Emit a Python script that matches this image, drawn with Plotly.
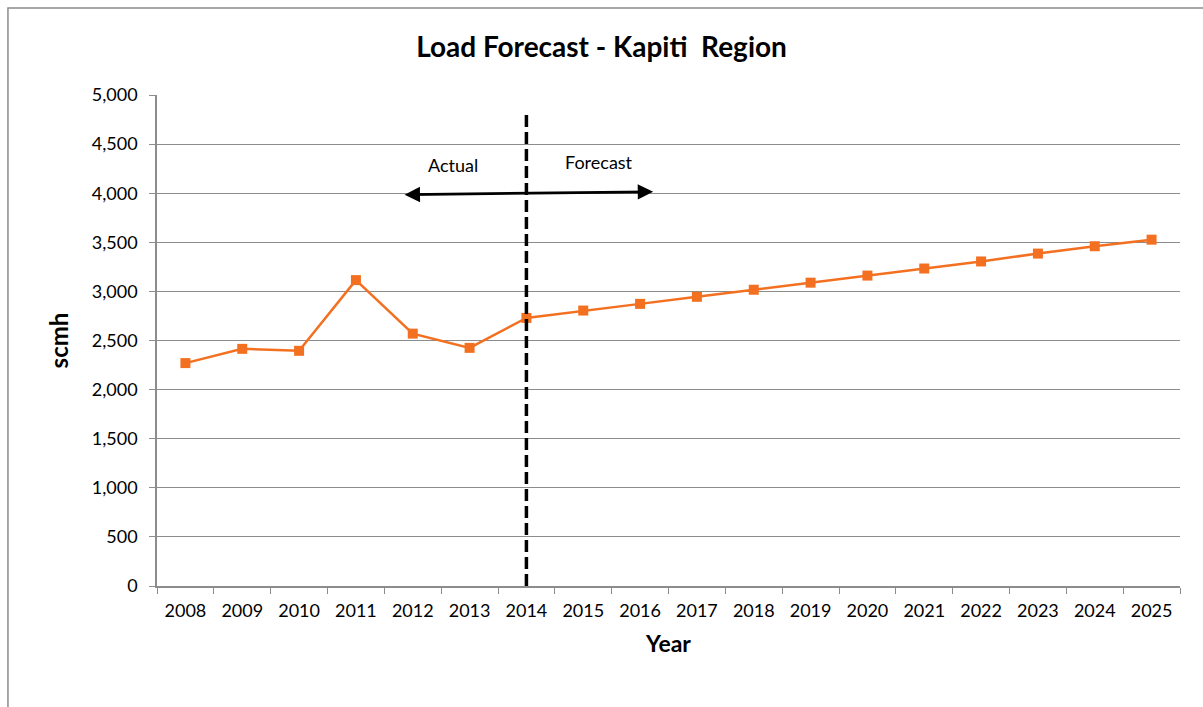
import plotly.graph_objects as go

# Gas load (scmh) by year: actuals to 2014, forecast afterwards
years = [str(y) for y in range(2008, 2026)]
load_scmh = [2270, 2415, 2395, 3115, 2570, 2425, 2730, 2805, 2873, 2945,
             3017, 3089, 3161, 3233, 3305, 3385, 3460, 3527]

y_ticks = [0, 500, 1000, 1500, 2000, 2500, 3000, 3500, 4000, 4500, 5000]
y_tick_text = [f"{v:,}" for v in y_ticks]

split_year = "2014"
split_top = 4830
arrow_level = 4000

FONT = "Lato, 'Open Sans', sans-serif"
ORANGE = "#F37021"
GRID = "#8C8C8C"

fig = go.Figure()
fig.add_trace(go.Scatter(
    x=years, y=load_scmh, mode="lines+markers",
    line=dict(color=ORANGE, width=2.5),
    marker=dict(symbol="square", size=10, color=ORANGE),
    showlegend=False, hoverinfo="x+y",
))

split_idx = years.index(split_year)

# Vertical dashed divider between actual and forecast
fig.add_shape(type="line", xref="x", yref="y",
              x0=split_idx, x1=split_idx, y0=0, y1=split_top,
              line=dict(color="black", width=3.5, dash="12px,5px"))

# Double-headed arrow across the divider
fig.add_annotation(x=split_idx + 2.23, y=arrow_level + 15,
                   ax=split_idx - 2.17, ay=arrow_level - 15,
                   xref="x", yref="y", axref="x", ayref="y",
                   text="", showarrow=True, arrowhead=2, startarrowhead=2,
                   arrowside="end+start", arrowsize=1.1, startarrowsize=1.1,
                   arrowwidth=2.8, arrowcolor="black")

fig.add_annotation(x=split_idx - 1.3, y=arrow_level + 290, xref="x", yref="y",
                   text="Actual", showarrow=False,
                   font=dict(family=FONT, size=18, color="black"))
fig.add_annotation(x=split_idx + 1.27, y=arrow_level + 318, xref="x", yref="y",
                   text="Forecast", showarrow=False,
                   font=dict(family=FONT, size=18, color="black"))

# Outer chart frame (left and top edges visible)
fig.add_shape(type="rect", xref="paper", yref="paper",
              x0=-0.1457, x1=1.08, y0=-0.26, y1=1.1772,
              line=dict(color="#8C8C8C", width=1.5), layer="below")

fig.update_layout(
    width=1203, height=707,
    margin=dict(l=157, r=23, t=95, b=121),
    paper_bgcolor="white", plot_bgcolor="white",
    font=dict(family=FONT, size=18, color="black"),
    title=dict(text="<b>Load Forecast - Kapiti  Region</b>",
               x=0.5, xref="container", xanchor="center",
               y=1 - 47 / 707, yanchor="middle",
               font=dict(family=FONT, size=28, color="black")),
)

fig.update_xaxes(
    type="category", range=[-0.5, len(years) - 0.5],
    tickson="boundaries", ticks="outside", ticklen=6, tickcolor=GRID,
    ticklabelstandoff=8,
    showline=True, linecolor=GRID, linewidth=1.5,
    showgrid=False, zeroline=False,
    tickfont=dict(family=FONT, size=18),
    title=dict(text="<b>Year</b>", standoff=16,
               font=dict(family=FONT, size=23)),
)
fig.update_yaxes(
    range=[0, 5000], tickvals=y_ticks, ticktext=y_tick_text,
    ticks="outside", ticklen=6, tickcolor=GRID,
    ticklabelstandoff=8,
    showline=True, linecolor=GRID, linewidth=1.5,
    showgrid=True, gridcolor=GRID, gridwidth=1.2, zeroline=False,
    tickfont=dict(family=FONT, size=18),
    title=dict(text="<b>scmh</b>", standoff=16,
               font=dict(family=FONT, size=24)),
)

fig.write_html("out.html")
